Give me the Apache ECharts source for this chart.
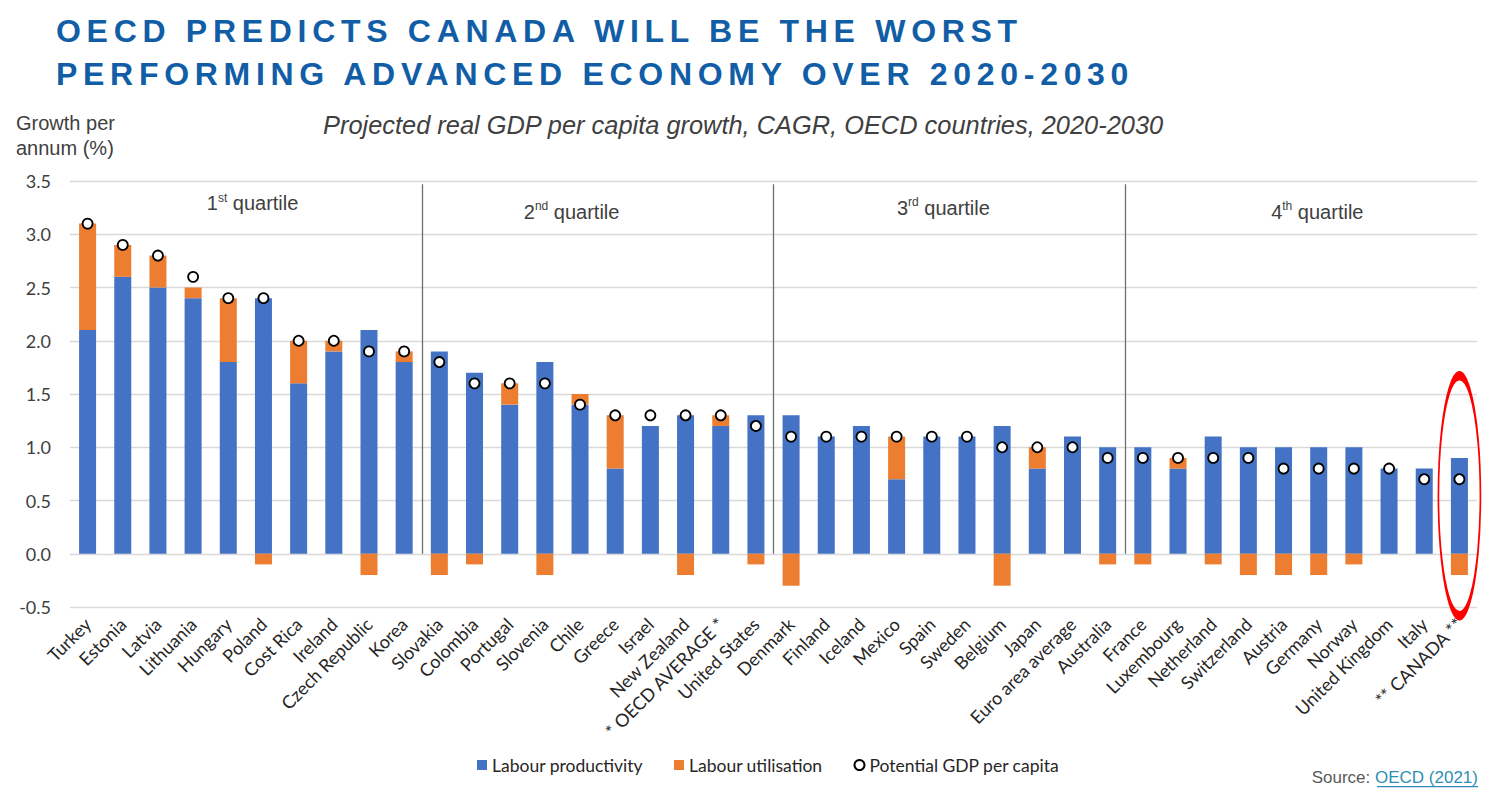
<!DOCTYPE html>
<html>
<head>
<meta charset="utf-8">
<script src="https://cdn.jsdelivr.net/npm/echarts@6/dist/echarts.min.js"></script>
<style>
html,body{margin:0;padding:0;background:#fff;}
#main{width:1500px;height:805px;}
</style>
</head>
<body>
<div id="main"></div>
<script>
// ---- data ----
const categories = ['Turkey','Estonia','Latvia','Lithuania','Hungary','Poland','Cost Rica','Ireland','Czech Republic','Korea',
  'Slovakia','Colombia','Portugal','Slovenia','Chile','Greece','Israel','New Zealand','* OECD AVERAGE *','United States',
  'Denmark','Finland','Iceland','Mexico','Spain','Sweden','Belgium','Japan','Euro area average','Australia',
  'France','Luxembourg','Netherland','Switzerland','Austria','Germany','Norway','United Kingdom','Italy','** CANADA **'];
const labourProductivity = [2.1,2.6,2.5,2.4,1.8,2.4,1.6,1.9,2.1,1.8,
  1.9,1.7,1.4,1.8,1.4,0.8,1.2,1.3,1.2,1.3,
  1.3,1.1,1.2,0.7,1.1,1.1,1.2,0.8,1.1,1.0,
  1.0,0.8,1.1,1.0,1.0,1.0,1.0,0.8,0.8,0.9];
const labourUtilisation = [1.0,0.3,0.3,0.1,0.6,-0.1,0.4,0.1,-0.2,0.1,
  -0.2,-0.1,0.2,-0.2,0.1,0.5,0,-0.2,0.1,-0.1,
  -0.3,0,0,0.4,0,0,-0.3,0.2,0,-0.1,
  -0.1,0.1,-0.1,-0.2,-0.2,-0.2,-0.1,0,0,-0.2];
const potentialGDP = [3.1,2.9,2.8,2.6,2.4,2.4,2.0,2.0,1.9,1.9,
  1.8,1.6,1.6,1.6,1.4,1.3,1.3,1.3,1.3,1.2,
  1.1,1.1,1.1,1.1,1.1,1.1,1.0,1.0,1.0,0.9,
  0.9,0.9,0.9,0.9,0.8,0.8,0.8,0.8,0.7,0.7];
const yTicks = [-0.5,0,0.5,1,1.5,2,2.5,3,3.5];
const quartileBoundaries = [9.5, 19.5, 29.5];
const quartileLabels = [
  {num:'1', sup:'st', x:4.69, y:3.29},
  {num:'2', sup:'nd', x:13.76, y:3.21},
  {num:'3', sup:'rd', x:24.33, y:3.25},
  {num:'4', sup:'th', x:34.96, y:3.21}
];
const highlightCategory = '** CANADA **';
const titleLines = ['OECD PREDICTS CANADA WILL BE THE WORST', 'PERFORMING ADVANCED ECONOMY OVER 2020-2030'];
const subtitleText = 'Projected real GDP per capita growth, CAGR, OECD countries, 2020-2030';
const yAxisTitle = 'Growth per\nannum (%)';

const BLUE = '#4472C4', ORANGE = '#ED7D31', TEXT = '#404040';
const sansA = '"Liberation Sans", Arial, sans-serif';
const sansC = 'Lato, "Open Sans", sans-serif';

const chart = echarts.init(document.getElementById('main'), null, {renderer:'svg'});

const option = {
  animation: false,
  backgroundColor: '#fff',
  title: [
    {text: titleLines[0], left: 56, top: 15, padding: 0,
     textStyle:{fontFamily:sansA, fontWeight:'bold', fontSize:32, color:'#115EA6', lineHeight:32}},
    {text: titleLines[1], left: 56, top: 58, padding: 0,
     textStyle:{fontFamily:sansA, fontWeight:'bold', fontSize:32, color:'#115EA6', lineHeight:32}},
    {text: yAxisTitle, left: 16, top: 110, padding: 0,
     textStyle:{fontFamily:sansA, fontWeight:'normal', fontSize:20, color:TEXT, lineHeight:25}},
    {text: subtitleText, left: 323, top: 110, padding: 0,
     textStyle:{fontFamily:sansA, fontWeight:'normal', fontStyle:'italic', fontSize:25.4, color:TEXT, lineHeight:30}}
  ],
  legend: {
    left: 472, top: 751,
    itemWidth: 10, itemHeight: 10, itemGap: 31,
    textStyle:{fontFamily:sansC, fontSize:17.5, color:'#262626'},
    data: [
      {name:'Labour productivity', icon:'rect'},
      {name:'Labour utilisation', icon:'rect'},
      {name:'Potential GDP per capita', icon:'circle'}
    ]
  },
  grid: {left:70, right:23, top:181, bottom:198},
  xAxis: [
    {type:'category', data:categories, gridIndex:0,
     axisLine:{show:false, onZero:false}, axisTick:{show:false},
     axisLabel:{interval:0, rotate:45, margin:14, fontFamily:sansC, fontSize:18, color:'#262626'}},
    {type:'value', min:-0.5, max:39.5, show:false, gridIndex:0}
  ],
  yAxis: {
    type:'value', min:yTicks[0], max:yTicks[yTicks.length-1], interval:0.5,
    axisLine:{show:false}, axisTick:{show:false},
    splitLine:{lineStyle:{color:'#D9D9D9', width:1.3}},
    axisLabel:{margin:19, fontFamily:sansC, fontSize:18, color:TEXT,
      formatter: v => v.toFixed(1)}
  },
  graphic: [
    {type:'text', right:22, top:769,
     style:{text:'{s|Source: }{l|OECD (2021)}', rich:{
       s:{fontFamily:sansA, fontSize:17, fill:'#595959'},
       l:{fontFamily:sansA, fontSize:17, fill:'#2E8FB5'}}}},
    {type:'rect', shape:{x:1377, y:786, width:101, height:1.2}, style:{fill:'#2E8FB5'}}
  ],
  series: [
    {name:'Labour productivity', type:'bar', stack:'gdp', data:labourProductivity,
     barWidth:17, itemStyle:{color:BLUE}, xAxisIndex:0},
    {name:'Labour utilisation', type:'bar', stack:'gdp', data:labourUtilisation,
     barWidth:17, itemStyle:{color:ORANGE}, xAxisIndex:0},
    {name:'Potential GDP per capita', type:'scatter', data:potentialGDP, xAxisIndex:0,
     symbol:'circle', symbolSize:10, z:5,
     itemStyle:{color:'#fff', borderColor:'#000', borderWidth:1.8, opacity:1},
     markPoint:{
       symbol:'circle', symbolSize:[42,240], silent:true,
       itemStyle:{color:'rgba(0,0,0,0)', borderColor:'#FF0000', borderWidth:4},
       label:{show:false},
       data:[{coord:[highlightCategory, 0.545]}]
     }},
    {name:'quartiles', type:'scatter', data:[], xAxisIndex:1, yAxisIndex:0, silent:true,
     markLine:{
       symbol:['none','none'], silent:true,
       lineStyle:{color:'#6F6F6F', width:1.3, type:'solid'},
       label:{show:false},
       data: quartileBoundaries.map(b => [{coord:[b, 3.47]}, {coord:[b, 0]}])
     },
     markPoint:{
       symbol:'circle', symbolSize:1, silent:true,
       itemStyle:{color:'rgba(0,0,0,0)'},
       label:{show:true, position:'inside',
         formatter: p => '{n|' + p.data.num + '}{s|' + p.data.sup + '}{q| quartile}',
         rich:{
           n:{fontFamily:sansA, fontSize:20, color:TEXT},
           s:{fontFamily:sansA, fontSize:12, color:TEXT, padding:[0,0,11,0]},
           q:{fontFamily:sansA, fontSize:20, color:TEXT}
         }},
       data: quartileLabels.map(q => ({coord:[q.x, q.y], num:q.num, sup:q.sup}))
     }}
  ]
};
chart.setOption(option);

function applySpacing(){
  document.querySelectorAll('#main text').forEach(t => {
    if (titleLines.indexOf(t.textContent) >= 0) t.setAttribute('letter-spacing', '5.7');
  });
}
applySpacing();
chart.on('finished', applySpacing);
setTimeout(applySpacing, 50);
setTimeout(applySpacing, 300);
</script>
</body>
</html>
